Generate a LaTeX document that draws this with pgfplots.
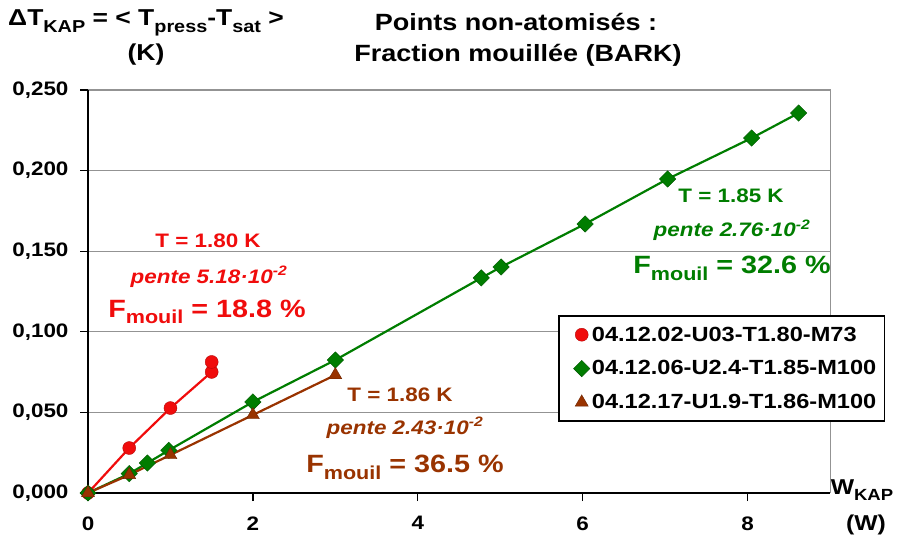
\documentclass[border=0pt]{standalone}
\usepackage{fontspec}
\setmainfont[FakeStretch=1.15]{Liberation Sans}
\usepackage{graphicx}
\usepackage{pgfplots}
\pgfplotsset{compat=1.18}
\definecolor{cred}{RGB}{240,12,12}
\definecolor{cgreen}{RGB}{0,125,0}
\definecolor{cbrown}{RGB}{153,51,0}
\newcommand{\sub}[1]{\raisebox{-0.28em}{\scalebox{0.75}{#1}}}
\newcommand{\fs}[1]{\fontsize{#1}{#1}\selectfont\bfseries}
\begin{document}
\begin{tikzpicture}[x=1pt,y=1pt,font=\bfseries]
\useasboundingbox (0,0) rectangle (904,544);
\begin{axis}[
  at={(88pt,51pt)}, anchor=south west, scale only axis,
  width=742pt, height=403pt,
  xmin=0, xmax=9, ymin=0, ymax=0.25,
  axis line style={draw=none},
  clip=false,
  xtick={0,2,4,6,8}, xticklabels={0,2,4,6,8},
  ytick={0,0.05,0.1,0.15,0.2,0.25},
  yticklabels={{0,000},{0,050},{0,100},{0,150},{0,200},{0,250}},
  xtick pos=bottom, ytick pos=left,
  tick align=outside, major tick length=8pt,
  tick style={black, line width=1.3pt},
  ymajorgrids, grid style={gray!85, line width=0.9pt},
  ticklabel style={font=\fs{19.5}},
  xticklabel style={yshift=-12pt},
  yticklabel style={xshift=-8pt},
  legend style={at={(axis cs:5.70,0.1104)}, anchor=north west, draw=black,
    line width=1.6pt, font=\fs{20.5}, row sep=14pt, inner xsep=6pt, inner ysep=9pt,
    cells={anchor=west}},
  legend image code/.code={\path[draw=none,fill=none] (0pt,0pt) -- (24pt,0pt); \draw[#1,only marks] plot coordinates {(17pt,0pt)};},
]
\draw[gray!85, line width=1pt] (rel axis cs:0,1) -- (rel axis cs:1,1) -- (rel axis cs:1,0);
\draw[black, line width=2.4pt] (rel axis cs:0,1) -- (rel axis cs:0,0) -- (rel axis cs:1,0);

\addplot[cred, line width=2.2pt, mark=*, mark size=6.5pt,
  mark options={fill=cred, draw=cred!75!black, line width=0.4pt}]
  coordinates {(0,0) (0.5,0.0279) (1.0,0.0527) (1.5,0.0751) (1.5,0.0813)};
\addlegendentry{04.12.02-U03-T1.80-M73}

\addplot[cgreen, line width=2.2pt, mark=square*, mark size=5.8pt,
  mark options={rotate=45, fill=cgreen, draw=cgreen!70!black, line width=0.4pt}]
  coordinates {(0,0) (0.5,0.0120) (0.72,0.0186) (0.98,0.0265) (2.0,0.0565) (3.0,0.0825)
   (4.77,0.1334) (5.01,0.1402) (6.03,0.1669) (7.03,0.1948) (8.05,0.2202) (8.62,0.2357)};
\addlegendentry{04.12.06-U2.4-T1.85-M100}

\addplot[cbrown, line width=2.2pt, mark=triangle*, mark size=7.5pt,
  mark options={fill=cbrown, draw=cbrown!70!black, line width=0.4pt}]
  coordinates {(0,0) (0.5,0.0112) (1.0,0.0236) (2.0,0.0484) (3.0,0.0732)};
\addlegendentry{04.12.17-U1.9-T1.86-M100}
\end{axis}

% titles
\node[font=\fs{23.5}, anchor=center] at (516,522) {Points non-atomisés :};
\node[font=\fs{23.5}, anchor=center] at (518,489) {Fraction mouillée (BARK)};
\node[font=\fs{23}, anchor=center] at (146,521) {ΔT\sub{KAP} = < T\sub{press}-T\sub{sat} >};
\node[font=\fs{23}, anchor=center] at (146,489) {(K)};
\node[font=\fs{21.5}, anchor=center] at (862,54) {W\sub{KAP}};
\node[font=\fs{21.5}, anchor=center] at (866,19) {(W)};

% red annotation
\node[cred, font=\fs{19.5}, anchor=base] at (208,296) {T = 1.80 K};
\node[cred, font=\fs{19.5}\itshape, anchor=base] at (209,261) {pente 5.18\textperiodcentered10\textsuperscript{-2}};
\node[cred, font=\fs{25}, anchor=base] at (207,227) {F\sub{mouil} = 18.8 \%};

% green annotation
\node[cgreen, font=\fs{19.5}, anchor=base] at (731,341) {T = 1.85 K};
\node[cgreen, font=\fs{19.5}\itshape, anchor=base] at (732,307) {pente 2.76\textperiodcentered10\textsuperscript{-2}};
\node[cgreen, font=\fs{25}, anchor=base] at (732,270) {F\sub{mouil} = 32.6 \%};

% brown annotation
\node[cbrown, font=\fs{19.5}, anchor=base] at (400,143) {T = 1.86 K};
\node[cbrown, font=\fs{19.5}\itshape, anchor=base] at (405,110) {pente 2.43\textperiodcentered10\textsuperscript{-2}};
\node[cbrown, font=\fs{25}, anchor=base] at (405,72) {F\sub{mouil} = 36.5 \%};
\end{tikzpicture}
\end{document}
